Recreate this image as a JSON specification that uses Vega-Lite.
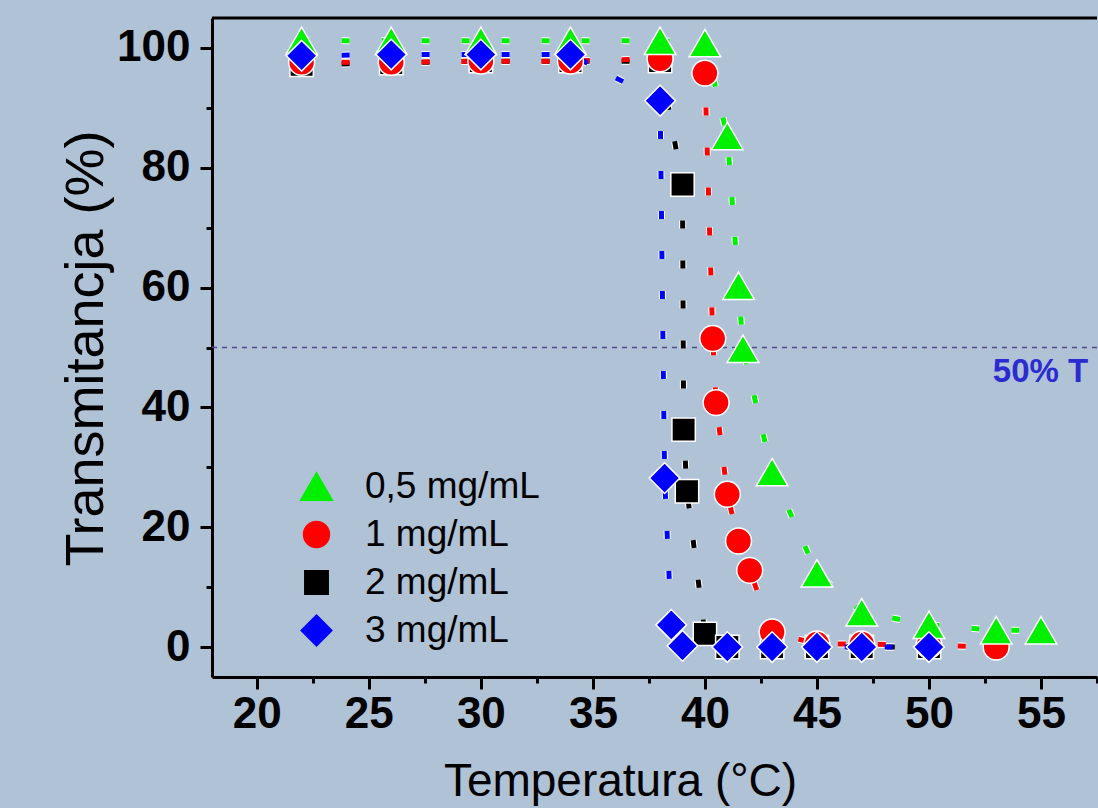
{
  "$schema": "https://vega.github.io/schema/vega-lite/v6.json",
  "width": 885,
  "height": 659,
  "autosize": {"type": "none"},
  "padding": {"left": 212, "top": 18, "right": 1, "bottom": 131},
  "background": "#b0c2d6",
  "config": {"view": {"stroke": null}, "font": "Liberation Sans"},
  "data": {"values": [
    {"series": "2 mg/mL", "T": 22, "v": 97.2},
    {"series": "2 mg/mL", "T": 26, "v": 97.5},
    {"series": "2 mg/mL", "T": 30, "v": 97.8},
    {"series": "2 mg/mL", "T": 34, "v": 97.8},
    {"series": "2 mg/mL", "T": 38, "v": 97.8},
    {"series": "2 mg/mL", "T": 39, "v": 77.2},
    {"series": "2 mg/mL", "T": 39.05, "v": 36.3},
    {"series": "2 mg/mL", "T": 39.2, "v": 26},
    {"series": "2 mg/mL", "T": 40, "v": 2.2},
    {"series": "2 mg/mL", "T": 41, "v": 0},
    {"series": "2 mg/mL", "T": 43, "v": 0},
    {"series": "2 mg/mL", "T": 45, "v": 0},
    {"series": "2 mg/mL", "T": 47, "v": 0},
    {"series": "2 mg/mL", "T": 50, "v": 0},
    {"series": "1 mg/mL", "T": 22, "v": 97.6},
    {"series": "1 mg/mL", "T": 26, "v": 97.6},
    {"series": "1 mg/mL", "T": 30, "v": 97.8},
    {"series": "1 mg/mL", "T": 34, "v": 97.8},
    {"series": "1 mg/mL", "T": 38, "v": 98.2},
    {"series": "1 mg/mL", "T": 40, "v": 95.8},
    {"series": "1 mg/mL", "T": 40.35, "v": 51.5},
    {"series": "1 mg/mL", "T": 40.5, "v": 40.8},
    {"series": "1 mg/mL", "T": 41, "v": 25.5},
    {"series": "1 mg/mL", "T": 41.5, "v": 17.7},
    {"series": "1 mg/mL", "T": 42, "v": 12.8},
    {"series": "1 mg/mL", "T": 43, "v": 2.5},
    {"series": "1 mg/mL", "T": 45, "v": 0.5},
    {"series": "1 mg/mL", "T": 47, "v": 0.5},
    {"series": "1 mg/mL", "T": 50, "v": 0.3},
    {"series": "1 mg/mL", "T": 53, "v": 0},
    {"series": "0,5 mg/mL", "T": 22, "v": 101.2},
    {"series": "0,5 mg/mL", "T": 26, "v": 101.2},
    {"series": "0,5 mg/mL", "T": 30, "v": 101.2},
    {"series": "0,5 mg/mL", "T": 34, "v": 101.2},
    {"series": "0,5 mg/mL", "T": 38, "v": 101.2},
    {"series": "0,5 mg/mL", "T": 40, "v": 100.8},
    {"series": "0,5 mg/mL", "T": 41, "v": 85.3},
    {"series": "0,5 mg/mL", "T": 41.5, "v": 60.3},
    {"series": "0,5 mg/mL", "T": 41.7, "v": 49.8},
    {"series": "0,5 mg/mL", "T": 43, "v": 29.2},
    {"series": "0,5 mg/mL", "T": 45, "v": 12.3},
    {"series": "0,5 mg/mL", "T": 47, "v": 5.8},
    {"series": "0,5 mg/mL", "T": 50, "v": 3.7},
    {"series": "0,5 mg/mL", "T": 53, "v": 2.8},
    {"series": "0,5 mg/mL", "T": 55, "v": 2.8},
    {"series": "3 mg/mL", "T": 22, "v": 98.7},
    {"series": "3 mg/mL", "T": 26, "v": 98.9},
    {"series": "3 mg/mL", "T": 30, "v": 98.9},
    {"series": "3 mg/mL", "T": 34, "v": 98.9},
    {"series": "3 mg/mL", "T": 38, "v": 91.2},
    {"series": "3 mg/mL", "T": 38.2, "v": 28.2},
    {"series": "3 mg/mL", "T": 38.5, "v": 3.7},
    {"series": "3 mg/mL", "T": 39, "v": 0.2},
    {"series": "3 mg/mL", "T": 41, "v": 0},
    {"series": "3 mg/mL", "T": 43, "v": 0},
    {"series": "3 mg/mL", "T": 45, "v": 0},
    {"series": "3 mg/mL", "T": 47, "v": 0},
    {"series": "3 mg/mL", "T": 50, "v": 0}
  ]},
  "layer": [
    {
      "data": {"values": [{}]},
      "mark": {"type": "rule", "color": "#54488a", "strokeWidth": 1.3, "strokeDash": [5, 5]},
      "encoding": {"y": {"datum": 50, "type": "quantitative"}}
    },
    {
      "mark": {"type": "line", "stroke": "white", "strokeWidth": 7, "strokeDash": [8, 32], "strokeCap": "butt"},
      "encoding": {
        "x": {"field": "T", "type": "quantitative"},
        "y": {"field": "v", "type": "quantitative"},
        "detail": {"field": "series"}
      }
    },
    {
      "mark": {"type": "line", "strokeWidth": 5, "strokeDash": [8, 32], "strokeCap": "butt"},
      "encoding": {
        "x": {"field": "T", "type": "quantitative"},
        "y": {"field": "v", "type": "quantitative"},
        "color": {"field": "series", "type": "nominal",
          "scale": {"domain": ["0,5 mg/mL", "1 mg/mL", "2 mg/mL", "3 mg/mL"], "range": ["#00f000", "#ff0000", "#000000", "#0000ff"]}}
      }
    },
    {
      "mark": {"type": "point", "filled": true, "opacity": 1, "stroke": "white", "strokeWidth": 1.5, "size": 1000},
      "encoding": {
        "x": {"field": "T", "type": "quantitative",
          "scale": {"domain": [18, 57.5], "nice": false, "zero": false},
          "axis": {
            "values": [20, 22.5, 25, 27.5, 30, 32.5, 35, 37.5, 40, 42.5, 45, 47.5, 50, 52.5, 55, 57.5],
            "labelExpr": "datum.value % 5 === 0 ? datum.label : ''",
            "tickSize": {"condition": {"test": "datum.value % 5 !== 0", "value": 6}, "value": 12},
            "tickWidth": 3, "tickColor": "black", "domainWidth": 3, "domainColor": "black",
            "labelFont": "Liberation Sans", "labelFontWeight": "bold", "labelFontSize": 44, "labelColor": "black",
            "labelPadding": 3, "labelFlush": false, "labelOverlap": false, "grid": false,
            "title": "Temperatura (°C)", "titleFont": "Liberation Sans", "titleFontSize": 46, "titleFontWeight": "normal", "titleColor": "black",
            "titleX": 408, "titleY": 118, "titleAnchor": null, "titleAlign": "center", "titleBaseline": "alphabetic"
          }},
        "y": {"field": "v", "type": "quantitative",
          "scale": {"domain": [-5, 105], "nice": false, "zero": false},
          "axis": {
            "values": [0, 10, 20, 30, 40, 50, 60, 70, 80, 90, 100],
            "labelExpr": "datum.value % 20 === 0 ? datum.label : ''",
            "tickSize": {"condition": {"test": "datum.value % 20 !== 0", "value": 6}, "value": 12},
            "tickWidth": 3, "tickColor": "black", "domainWidth": 3, "domainColor": "black",
            "labelFont": "Liberation Sans", "labelFontWeight": "bold", "labelFontSize": 44, "labelColor": "black",
            "labelPadding": 10, "labelFlush": false, "labelOverlap": false, "grid": false,
            "title": "Transmitancja (%)", "titleFont": "Liberation Sans", "titleFontSize": 54, "titleFontWeight": "normal", "titleColor": "black",
            "titleX": -110, "titleY": 330, "titleAngle": -90, "titleAlign": "center", "titleBaseline": "alphabetic"
          }},
        "color": {"field": "series", "type": "nominal",
          "scale": {"domain": ["0,5 mg/mL", "1 mg/mL", "2 mg/mL", "3 mg/mL"], "range": ["#00f000", "#ff0000", "#000000", "#0000ff"]},
          "legend": {
            "orient": "none", "legendX": 86, "legendY": 450, "title": null,
            "labelFont": "Liberation Sans", "labelFontSize": 37, "labelColor": "black", "labelOffset": 30, "labelLimit": 400,
            "rowPadding": 10, "padding": 0, "symbolSize": 1000, "symbolStrokeColor": "white", "symbolStrokeWidth": 1.5, "symbolOpacity": 1
          }},
        "shape": {"field": "series", "type": "nominal",
          "scale": {"domain": ["0,5 mg/mL", "1 mg/mL", "2 mg/mL", "3 mg/mL"],
            "range": [
              "M0,-0.866L1,0.866L-1,0.866Z",
              "M0.82,0A0.82,0.82,0,1,1,-0.82,0A0.82,0.82,0,1,1,0.82,0Z",
              "M-0.74,-0.74H0.74V0.74H-0.74Z",
              "M-0.97,0L0,-0.97L0.97,0L0,0.97Z"
            ]}}
      }
    },
    {
      "data": {"values": [{}]},
      "mark": {"type": "rule", "color": "black", "strokeWidth": 3},
      "encoding": {"y": {"datum": 105, "type": "quantitative"}}
    },
    {
      "data": {"values": [{}]},
      "mark": {"type": "text", "text": "50% T", "color": "#2b2bd0", "font": "Liberation Sans", "fontWeight": "bold", "fontSize": 33, "align": "left", "baseline": "alphabetic"},
      "encoding": {
        "x": {"datum": 52.85, "type": "quantitative"},
        "y": {"datum": 44.3, "type": "quantitative"}
      }
    }
  ]
}
